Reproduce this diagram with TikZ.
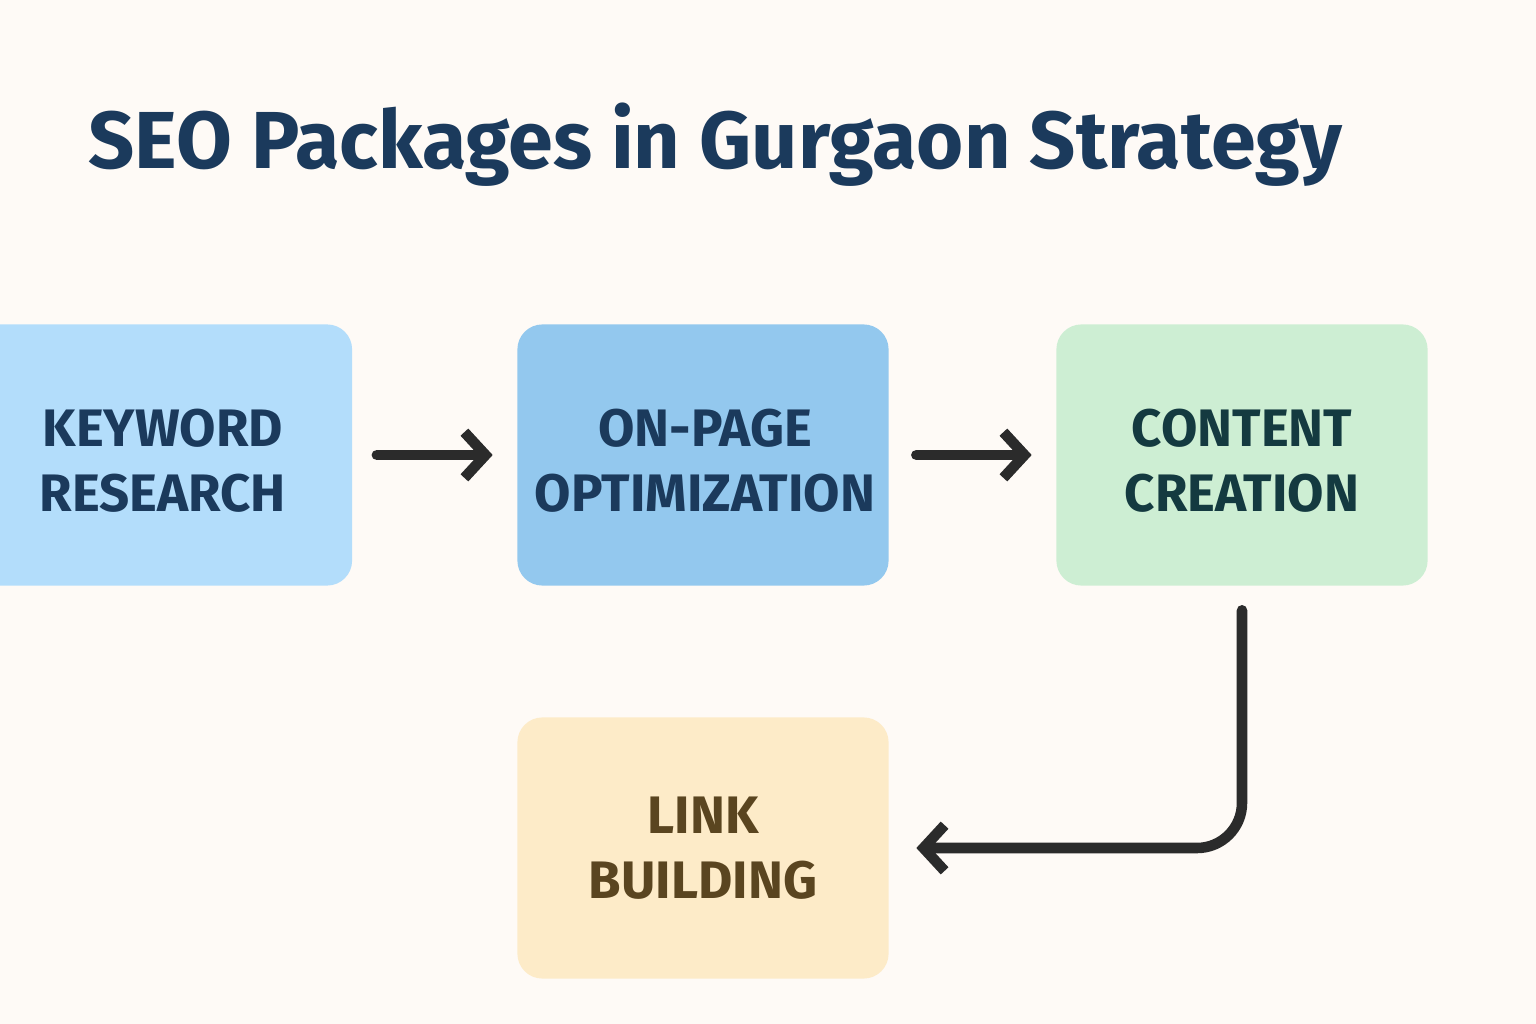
\documentclass[tikz,border=0pt]{standalone}
\usepackage{fontspec}
\setmainfont{Fira Sans}
\usetikzlibrary{arrows.meta}
\definecolor{bg}{HTML}{FEFAF6}
\definecolor{kw}{HTML}{B3DDFB}
\definecolor{op}{HTML}{93C8EE}
\definecolor{cc}{HTML}{CDEED3}
\definecolor{lb}{HTML}{FDEBC8}
\definecolor{navy}{HTML}{1B3A5C}
\definecolor{teal}{HTML}{143A40}
\definecolor{brn}{HTML}{5A4520}
\definecolor{arr}{HTML}{2B2B2B}
\begin{document}
\begin{tikzpicture}[x=0.01cm,y=-0.01cm,
 box/.style={rounded corners=0.25cm,minimum width=3.71cm,minimum height=2.61cm,align=center,font=\fontsize{15}{18.5}\selectfont\bfseries,text depth=0pt},
 conn/.style={line width=3pt,color=arr,line cap=round,line join=round,-{Straight Barb[length=6pt,width=13pt,line width=3pt]}}]
\fill[bg] (0,0) rectangle (1536,1024);
\useasboundingbox (0,0) rectangle (1536,1024);
\node[anchor=base west,text=navy,font=\fontsize{23}{28}\selectfont\bfseries] (title) at (76,168) {SEO Packages in Gurgaon Strategy};
\node[box,fill=kw,text=navy,minimum width=3.9cm] (k) at (157,455) {};
\node[text=navy,align=center,font=\fontsize{15}{18.5}\selectfont\bfseries] (kt) at (163,461) {KEYWORD\\RESEARCH};
\node[box,fill=op,text=navy] (o) at (703,455) {};
\node[text=navy,align=center,font=\fontsize{15}{18.5}\selectfont\bfseries] (ot) at (705,461) {ON-PAGE\\OPTIMIZATION};
\node[box,fill=cc,text=teal] (c) at (1242,455) {};
\node[text=teal,align=center,font=\fontsize{15}{18.5}\selectfont\bfseries] (ct) at (1242,461) {CONTENT\\CREATION};
\node[box,fill=lb,text=brn] (l) at (703,848) {};
\node[text=brn,align=center,font=\fontsize{15}{18.5}\selectfont\bfseries] (lt) at (703,848) {LINK\\BUILDING};
\draw[conn] ([xshift=0.24cm]k.east) -- ([xshift=-0.24cm]o.west);
\draw[conn] ([xshift=0.27cm]o.east) -- ([xshift=-0.24cm]c.west);
\draw[conn,rounded corners=0.45cm] ([yshift=-0.24cm]c.south) -- (c.south |- l.east) -- ([xshift=0.27cm]l.east);
\end{tikzpicture}
\end{document}
